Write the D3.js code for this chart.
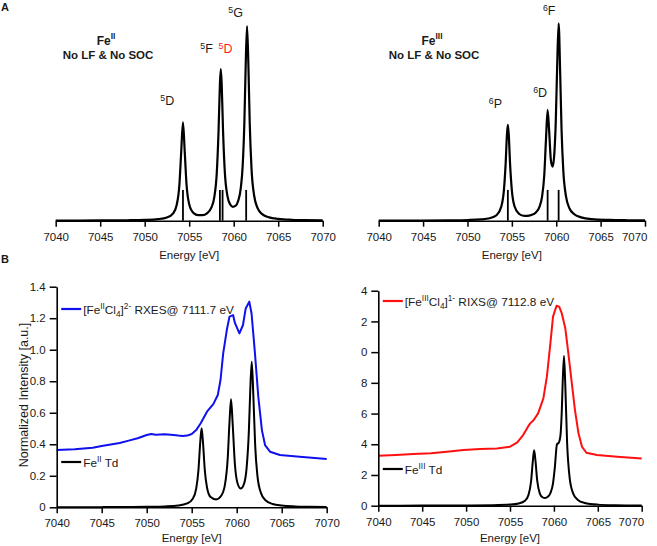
<!DOCTYPE html>
<html><head><meta charset="utf-8">
<script src="https://cdn.jsdelivr.net/npm/d3@7"></script>
<style>
html,body{margin:0;padding:0;background:#fff;}
svg text{font-family:"Liberation Sans",Arial,sans-serif;fill:#1a1a1a;}
</style></head>
<body>
<svg id="chart" width="657" height="546"></svg>
<script>
// ---------- DATA ----------
const energyTicks = [7040, 7045, 7050, 7055, 7060, 7065, 7070];
const intensityTicks = [0, 0.2, 0.4, 0.6, 0.8, 1.0, 1.2, 1.4];
const intensityTickLabelsLeft = ["0", "0.2", "0.4", "0.6", "0.8", "1.0", "1.2", "1.4"];
const intensityTickLabelsRight = ["0", "2", "4", "6", "8", "0", "2", "4"];

// Panel A, Fe(II) no LF & no SOC (relative intensity)
const feIINoLF = [[7040,0.001],[7045,0.0012],[7048,0.0022],[7050,0.004],[7051.5,0.008],[7052.5,0.0165],[7053.2,0.038],[7053.6,0.082],[7053.9,0.185],[7054.1,0.351],[7054.3,0.505],[7054.5,0.352],[7054.7,0.186],[7055.0,0.085],[7055.5,0.039],[7056.0,0.0286],[7056.5,0.0287],[7057.0,0.038],[7057.5,0.068],[7057.8,0.116],[7058.1,0.247],[7058.3,0.464],[7058.45,0.70],[7058.55,0.779],[7058.65,0.702],[7058.8,0.466],[7059.0,0.252],[7059.3,0.126],[7059.6,0.084],[7059.9,0.0715],[7060.2,0.076],[7060.5,0.101],[7060.8,0.169],[7061.0,0.275],[7061.2,0.506],[7061.35,0.802],[7061.5,1.0],[7061.65,0.80],[7061.8,0.503],[7062.0,0.269],[7062.3,0.128],[7062.7,0.063],[7063.2,0.034],[7064.0,0.017],[7065,0.0095],[7066.5,0.0047],[7068,0.003],[7070,0.0018]];
const feIISticks = [7054.3, 7058.45, 7058.75, 7061.4];
const feIIStickHeight = 0.158;
const feIILabels = [
  {sup:"5", base:"D", e:7051.75, v:0.594, red:false},
  {sup:"5", base:"F", e:7056.25, v:0.861, red:false},
  {sup:"5", base:"D", e:7058.3, v:0.861, red:true},
  {sup:"5", base:"G", e:7059.4, v:1.048, red:false}
];

// Panel A, Fe(III) no LF & no SOC
const feIIINoLF = [[7040,0.0006],[7045,0.0011],[7048,0.002],[7050,0.0035],[7051.5,0.0065],[7052.5,0.0125],[7053.3,0.029],[7053.8,0.070],[7054.1,0.152],[7054.3,0.288],[7054.45,0.437],[7054.55,0.485],[7054.65,0.437],[7054.8,0.288],[7055.0,0.154],[7055.3,0.073],[7055.8,0.035],[7056.3,0.025],[7056.7,0.024],[7057.2,0.0286],[7057.7,0.042],[7058.1,0.069],[7058.4,0.121],[7058.65,0.229],[7058.85,0.416],[7059.03,0.561],[7059.2,0.456],[7059.4,0.306],[7059.6,0.274],[7059.8,0.350],[7059.95,0.505],[7060.1,0.774],[7060.27,1.0],[7060.45,0.737],[7060.6,0.459],[7060.8,0.251],[7061.1,0.123],[7061.5,0.062],[7062.0,0.034],[7062.8,0.017],[7064,0.008],[7066,0.004],[7068,0.0023],[7070,0.0015]];
const feIIISticks = [7054.55, 7059.03, 7060.27];
const feIIIStickHeight = 0.156;
const feIIILabels = [
  {sup:"6", base:"P", e:7052.4, v:0.571, red:false},
  {sup:"6", base:"D", e:7057.4, v:0.628, red:false},
  {sup:"6", base:"F", e:7058.5, v:1.042, red:false}
];

// Panel B, Fe(II)
const feIICl4Rxes = [[7040,0.364],[7042,0.368],[7044,0.378],[7045,0.389],[7046,0.398],[7047,0.408],[7048,0.423],[7049,0.438],[7050,0.459],[7050.5,0.465],[7051,0.461],[7052,0.463],[7053,0.459],[7053.5,0.455],[7054,0.452],[7054.5,0.455],[7055,0.465],[7055.5,0.49],[7056,0.533],[7056.7,0.607],[7057.4,0.655],[7057.9,0.713],[7058.2,0.808],[7058.5,0.977],[7058.9,1.125],[7059.2,1.21],[7059.6,1.22],[7059.8,1.17],[7060.3,1.104],[7060.7,1.157],[7061.0,1.262],[7061.4,1.305],[7061.65,1.23],[7062.0,0.998],[7062.4,0.702],[7062.8,0.49],[7063.15,0.395],[7063.7,0.353],[7064.8,0.332],[7067,0.321],[7070,0.307]];
const feIITd = [[7040,0.0006],[7045,0.0011],[7048,0.0019],[7050,0.0029],[7052,0.0054],[7053.5,0.011],[7054.5,0.0245],[7055.1,0.053],[7055.5,0.119],[7055.75,0.236],[7055.95,0.413],[7056.1,0.501],[7056.25,0.415],[7056.45,0.240],[7056.7,0.126],[7057.1,0.065],[7057.7,0.050],[7058.3,0.075],[7058.7,0.145],[7059.0,0.309],[7059.2,0.541],[7059.37,0.685],[7059.55,0.532],[7059.8,0.273],[7060.1,0.151],[7060.45,0.119],[7060.8,0.147],[7061.1,0.249],[7061.35,0.482],[7061.5,0.732],[7061.67,0.924],[7061.85,0.709],[7062.05,0.396],[7062.3,0.201],[7062.7,0.090],[7063.2,0.045],[7064,0.021],[7065,0.011],[7066.5,0.0055],[7068,0.0034],[7070,0.0021]];

// Panel B, Fe(III)
const feIIICl4Rixs = [[7040,0.326],[7042,0.33],[7044,0.336],[7046,0.341],[7047.8,0.352],[7049.7,0.362],[7051.6,0.369],[7053.5,0.373],[7055,0.384],[7055.8,0.41],[7056.5,0.46],[7057.0,0.51],[7057.3,0.536],[7057.7,0.558],[7058.2,0.601],[7058.8,0.699],[7059.2,0.84],[7059.6,1.057],[7059.9,1.231],[7060.3,1.302],[7060.6,1.296],[7060.9,1.252],[7061.3,1.155],[7061.6,1.014],[7062.0,0.818],[7062.4,0.623],[7062.8,0.471],[7063.2,0.384],[7063.7,0.345],[7064.9,0.33],[7067.2,0.319],[7070,0.308]];
const feIIITd = [[7040,0.0004],[7045,0.0006],[7050,0.0015],[7053,0.0031],[7055,0.0072],[7056,0.0146],[7056.7,0.0326],[7057.1,0.069],[7057.4,0.158],[7057.6,0.29],[7057.75,0.361],[7057.9,0.293],[7058.1,0.163],[7058.4,0.079],[7058.7,0.055],[7059.0,0.050],[7059.3,0.058],[7059.6,0.082],[7059.9,0.146],[7060.1,0.245],[7060.35,0.40],[7060.55,0.41],[7060.75,0.46],[7060.9,0.62],[7061.0,0.80],[7061.15,0.975],[7061.3,0.78],[7061.5,0.416],[7061.8,0.178],[7062.2,0.079],[7062.7,0.039],[7063.5,0.018],[7065,0.007],[7067,0.0032],[7070,0.0015]];

// ---------- DRAWING ----------
const svg = d3.select("#chart");
const FONT = 11.5;

function rich(g, x, y, parts, opts = {}) {
  const t = g.append("text").attr("x", x).attr("y", y)
    .attr("font-size", opts.size || FONT)
    .attr("font-weight", opts.bold ? "bold" : null)
    .attr("text-anchor", opts.anchor || "start");
  if (opts.color) t.style("fill", opts.color);
  let shift = 0;
  parts.forEach(p => {
    let target = 0;
    if (p.sup) target = -(opts.supShift || 5);
    if (p.sub) target = 3;
    const s = t.append("tspan").text(p.t).attr("dy", target - shift);
    if (p.sup || p.sub) s.attr("font-size", (opts.size || FONT) * 0.7);
    shift = target;
  });
  return t;
}

function xAxis(g, x, y0, tick, rightAlignLast) {
  const ax = d3.axisBottom(x).tickValues(energyTicks).tickFormat(d3.format("d"))
    .tickSize(tick).tickSizeOuter(0).tickPadding(6);
  const a = g.append("g").attr("transform", `translate(0,${y0})`).call(ax);
  a.select(".domain").attr("stroke", "#000").attr("stroke-width", 1.6);
  a.selectAll(".tick line").attr("stroke", "#000").attr("stroke-width", 1.5);
  a.selectAll(".tick text").attr("font-size", FONT).attr("font-family", "Liberation Sans, Arial, sans-serif").style("fill", "#1a1a1a");
  if (rightAlignLast) {
    a.selectAll(".tick text").filter(d => d === 7070).attr("text-anchor", "end").attr("dx", 2);
  }
  return a;
}

function yAxis(g, y, x0, labels) {
  const ax = d3.axisLeft(y).tickValues(intensityTicks).tickFormat((d, i) => labels[i])
    .tickSize(7).tickSizeOuter(0).tickPadding(4);
  const a = g.append("g").attr("transform", `translate(${x0},0)`).call(ax);
  a.select(".domain").attr("stroke", "#000").attr("stroke-width", 1.6);
  a.selectAll(".tick line").attr("stroke", "#000").attr("stroke-width", 1.5);
  a.selectAll(".tick text").attr("font-size", FONT).attr("font-family", "Liberation Sans, Arial, sans-serif").style("fill", "#1a1a1a");
}

function curve(g, data, x, y, color, width, c) {
  g.append("path").datum(data)
    .attr("fill", "none").attr("stroke", color).attr("stroke-width", width)
    .attr("stroke-linejoin", "round")
    .attr("d", d3.line().x(d => x(d[0])).y(d => y(d[1])).curve(c));
}

// --- Panel A ---
function topPanel(x0, x1, yTop, data, sticks, stickH, labels, ion, textCx, rightAlignLast) {
  const g = svg.append("g");
  const x = d3.scaleLinear().domain([7040, 7070]).range([x0, x1]);
  const y = d3.scaleLinear().domain([0, 1]).range([220.7, yTop]);
  curve(g, data, x, y, "#000", 2.2, d3.curveMonotoneX);
  g.selectAll("line.stick").data(sticks).enter().append("line")
    .attr("x1", d => x(d)).attr("x2", d => x(d))
    .attr("y1", y(0)).attr("y2", y(stickH))
    .attr("stroke", "#000").attr("stroke-width", 1.8);
  xAxis(g, x, y(0), 6, rightAlignLast);
  g.append("text").attr("x", (x0 + x1) / 2).attr("y", 259).attr("text-anchor", "middle")
    .attr("font-size", FONT).text("Energy [eV]");
  rich(g, textCx, 45, [{t:"Fe"}, {t:ion, sup:true}], {bold:true, size:12, anchor:"middle", supShift:6});
  g.append("text").attr("x", textCx + 2).attr("y", 59).attr("text-anchor", "middle")
    .attr("font-size", 11.5).attr("font-weight", "bold").text("No LF & No SOC");
  labels.forEach(l => {
    rich(g, x(l.e), y(l.v), [{t:l.sup, sup:true}, {t:l.base}],
      {size:12.5, color: l.red ? "#ff1a1a" : null, supShift:4});
  });
}
topPanel(55.7, 322.7, 26, feIINoLF, feIISticks, feIIStickHeight, feIILabels, "II", 106, false);
topPanel(378.7, 645, 23.3, feIIINoLF, feIIISticks, feIIIStickHeight, feIIILabels, "III", 432, true);

svg.append("text").attr("x", 1).attr("y", 11).attr("font-size", 11).attr("font-weight", "bold").text("A");
svg.append("text").attr("x", 1).attr("y", 263).attr("font-size", 11).attr("font-weight", "bold").text("B");

// --- Panel B ---
function bottomPanel(x0, x1, yBase, yTopVal, expData, simData, color, tickLabels, legendParts, simParts, legY1, legY2, rightAlignLast) {
  const g = svg.append("g");
  const x = d3.scaleLinear().domain([7040, 7070]).range([x0, x1]);
  const y = d3.scaleLinear().domain([0, 1.4]).range([yBase, yTopVal]);
  curve(g, expData, x, y, color, 2, d3.curveLinear);
  curve(g, simData, x, y, "#000", 2, d3.curveMonotoneX);
  xAxis(g, x, yBase, 6, rightAlignLast);
  yAxis(g, y, x0, tickLabels);
  g.append("text").attr("x", (x0 + x1) / 2).attr("y", 542).attr("text-anchor", "middle")
    .attr("font-size", FONT).text("Energy [eV]");
  // legend
  g.append("line").attr("x1", x0 + 4.5).attr("x2", x0 + 24.5).attr("y1", legY1).attr("y2", legY1)
    .attr("stroke", color).attr("stroke-width", 2.2);
  rich(g, x0 + 26.5, legY1 + 4.5, legendParts, {size:11.8});
  g.append("line").attr("x1", x0 + 4.5).attr("x2", x0 + 24.5).attr("y1", legY2).attr("y2", legY2)
    .attr("stroke", "#000").attr("stroke-width", 2.2);
  rich(g, x0 + 26.5, legY2 + 4.5, simParts, {size:11.8});
}
bottomPanel(56.7, 326.7, 507.3, 286.7, feIICl4Rxes, feIITd, "#1010ee", intensityTickLabelsLeft,
  [{t:"[Fe"}, {t:"II", sup:true}, {t:"Cl"}, {t:"4", sub:true}, {t:"]"}, {t:"2-", sup:true}, {t:"  RXES@ 7111.7 eV"}],
  [{t:"Fe"}, {t:"II", sup:true}, {t:" Td"}], 309, 462, false);
bottomPanel(378.3, 641.7, 505.7, 290.7, feIIICl4Rixs, feIIITd, "#ff1010", intensityTickLabelsRight,
  [{t:"[Fe"}, {t:"III", sup:true}, {t:"Cl"}, {t:"4", sub:true}, {t:"]"}, {t:"1-", sup:true}, {t:"  RIXS@ 7112.8 eV"}],
  [{t:"Fe"}, {t:"III", sup:true}, {t:" Td"}], 301, 469, true);

svg.append("text").attr("transform", "translate(27.5,395) rotate(-90)").attr("text-anchor", "middle")
  .attr("font-size", 12.5).text("Normalized Intensity [a.u.]");
</script>
</body></html>
